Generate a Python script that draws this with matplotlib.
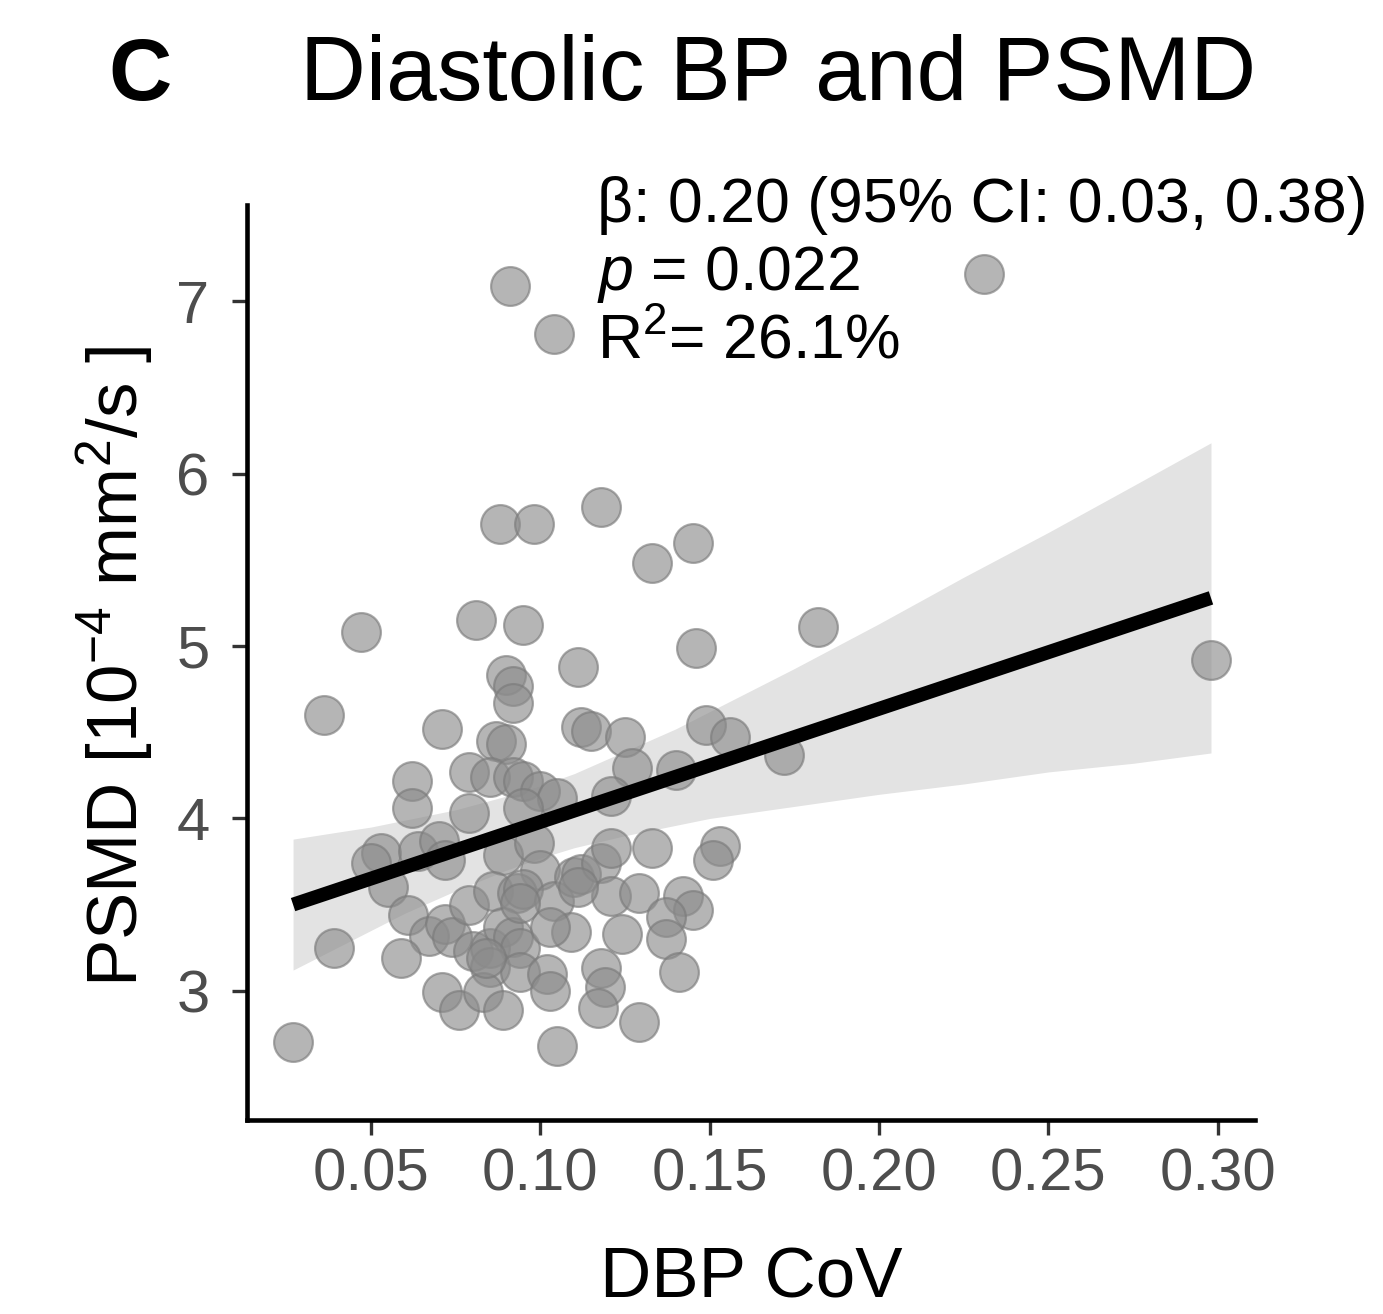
import matplotlib
matplotlib.use("Agg")
import matplotlib.pyplot as plt

plt.rcParams['font.family'] = ['Liberation Sans', 'DejaVu Sans']
plt.rcParams['mathtext.fontset'] = 'custom'
plt.rcParams['mathtext.rm'] = 'Liberation Sans'
plt.rcParams['mathtext.it'] = 'Liberation Sans:italic'
plt.rcParams['mathtext.bf'] = 'Liberation Sans:bold'

# DBP CoV vs PSMD
dbp_cov = [0.091, 0.104, 0.231, 0.298, 0.088, 0.098, 0.118, 0.133, 0.145, 0.047,
           0.081, 0.095, 0.111, 0.146, 0.090, 0.092, 0.092, 0.036, 0.071, 0.112,
           0.115, 0.125, 0.149, 0.156, 0.087, 0.090, 0.172, 0.127, 0.140, 0.062,
           0.079, 0.085, 0.092, 0.095, 0.100, 0.105, 0.121, 0.062, 0.079, 0.095,
           0.053, 0.050, 0.055, 0.064, 0.070, 0.072, 0.089, 0.098, 0.100, 0.061,
           0.067, 0.072, 0.074, 0.079, 0.086, 0.093, 0.095, 0.104, 0.110, 0.112,
           0.118, 0.121, 0.121, 0.129, 0.133, 0.153, 0.151, 0.142, 0.145, 0.137,
           0.137, 0.039, 0.059, 0.080, 0.085, 0.089, 0.092, 0.094, 0.085, 0.094,
           0.102, 0.103, 0.109, 0.103, 0.124, 0.118, 0.119, 0.141, 0.071, 0.076,
           0.083, 0.089, 0.117, 0.129, 0.105, 0.027, 0.182, 0.084, 0.094, 0.111]
psmd = [7.09, 6.81, 7.16, 4.92, 5.71, 5.71, 5.81, 5.48, 5.60, 5.08,
        5.15, 5.12, 4.88, 4.99, 4.83, 4.77, 4.67, 4.60, 4.52, 4.53,
        4.51, 4.47, 4.54, 4.47, 4.45, 4.43, 4.37, 4.29, 4.28, 4.22,
        4.27, 4.24, 4.24, 4.22, 4.16, 4.12, 4.13, 4.06, 4.03, 4.06,
        3.80, 3.74, 3.60, 3.81, 3.87, 3.76, 3.79, 3.86, 3.70, 3.44,
        3.32, 3.39, 3.31, 3.50, 3.58, 3.57, 3.59, 3.52, 3.66, 3.68,
        3.74, 3.83, 3.55, 3.57, 3.83, 3.84, 3.76, 3.55, 3.47, 3.43,
        3.30, 3.25, 3.19, 3.23, 3.25, 3.37, 3.31, 3.25, 3.14, 3.11,
        3.10, 3.00, 3.34, 3.37, 3.33, 3.13, 3.02, 3.11, 2.99, 2.89,
        2.99, 2.89, 2.90, 2.82, 2.68, 2.70, 5.11, 3.19, 3.51, 3.60]

# fitted line and 95% CI band
fit_x = [0.027, 0.298]
fit_y = [3.50, 5.28]
band_x = [0.027, 0.04, 0.05, 0.06, 0.075, 0.09, 0.10, 0.11, 0.125,
          0.14, 0.15, 0.175, 0.20, 0.225, 0.25, 0.275, 0.298]
band_lo = [3.12, 3.25, 3.35, 3.45, 3.58, 3.70, 3.77, 3.83, 3.90,
           3.96, 4.00, 4.07, 4.14, 4.20, 4.27, 4.32, 4.38]
band_hi = [3.88, 3.92, 3.95, 3.99, 4.05, 4.13, 4.19, 4.26, 4.39,
           4.52, 4.62, 4.87, 5.13, 5.40, 5.66, 5.93, 6.18]

x_ticks = [0.05, 0.10, 0.15, 0.20, 0.25, 0.30]
y_ticks = [3, 4, 5, 6, 7]

fig = plt.figure(figsize=(13.83, 13.14), dpi=100)
ax = fig.add_axes([247 / 1383, 1 - 1120 / 1314, 1008 / 1383, 915 / 1314])

ax.fill_between(band_x, band_lo, band_hi, color='#e3e3e3', lw=0, zorder=1)
ax.scatter(dbp_cov, psmd, s=780, facecolor='#8c8c8c', edgecolor='#7a7a7a',
           linewidths=1.6, alpha=0.64, zorder=2)
ax.plot(fit_x, fit_y, color='black', lw=10, solid_capstyle='butt', zorder=3)

ax.set_xlim(0.0134, 0.311)
ax.set_ylim(2.25, 7.56)
ax.set_xticks(x_ticks)
ax.set_xticklabels([f"{t:.2f}" for t in x_ticks])
ax.set_yticks(y_ticks)

for side in ['top', 'right']:
    ax.spines[side].set_visible(False)
for side in ['left', 'bottom']:
    ax.spines[side].set_linewidth(3.3)
    ax.spines[side].set_color('black')
ax.tick_params(axis='both', length=11, width=2.4, color='#333333',
               labelcolor='#4d4d4d', labelsize=43)
ax.tick_params(axis='x', pad=9)
ax.tick_params(axis='y', pad=16)

fig.text(108 / 1383, 1 - 100 / 1314, 'C', fontsize=63, fontweight='bold',
         va='baseline', ha='left')
fig.text(300 / 1383, 1 - 100 / 1314, 'Diastolic BP and PSMD', fontsize=65.6,
         va='baseline', ha='left')

fig.text(597 / 1383, 1 - 222 / 1314, 'β: 0.20 (95% CI: 0.03, 0.38)', fontsize=45,
         va='baseline', ha='left')
fig.text(597 / 1383, 1 - 290 / 1314, '$p$ = 0.022', fontsize=45,
         va='baseline', ha='left')
fig.text(597 / 1383, 1 - 358 / 1314, 'R$^2$= 26.1%', fontsize=45,
         va='baseline', ha='left')

fig.text(751 / 1383, 1 - 1297 / 1314, 'DBP CoV', fontsize=51,
         va='baseline', ha='center')
fig.text(115 / 1383, 1 - 666 / 1314, 'PSMD [10$^{-4}$ mm$^{2}$/s ]', fontsize=51,
         rotation=90, va='center', ha='center')

fig.savefig('out.png', dpi=100)
